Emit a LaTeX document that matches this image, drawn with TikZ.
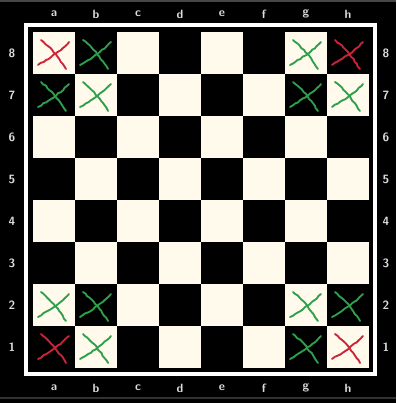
\documentclass[tikz,border=0pt]{standalone}
\usetikzlibrary{decorations.pathmorphing}
\definecolor{boardlight}{RGB}{255,250,236}
\definecolor{labelgray}{RGB}{220,220,220}
\definecolor{edgegray}{RGB}{70,70,70}
\definecolor{xred}{RGB}{205,35,55}
\definecolor{xgreen}{RGB}{45,160,75}
\tikzset{
  lightsq/.style={fill=boardlight},
  framewhite/.style={draw=white,line width=3pt},
  lbl/.style={text=labelgray,font=\sffamily\bfseries\fontsize{9}{9}\selectfont,inner sep=0pt},
  xstroke/.style={line width=1.4pt,line cap=round,line join=round,
    decorate,decoration={random steps,segment length=2.2pt,amplitude=0.4pt}},
}
\newcommand\xmark[3]{%
  \begin{scope}[shift={(54+42*#1,53+42*(8-#2))}]
    \draw[xstroke,#3] (-13,-13) .. controls (-1,-3) and (4,4) .. (12,16);
    \draw[xstroke,#3] (15,-11) .. controls (4,0) and (-3,4) .. (-16,12);
  \end{scope}}
\begin{document}
\begin{tikzpicture}[x=0.75pt,y=-0.75pt]
\pgfmathsetseed{7}
\useasboundingbox (0,0) rectangle (396,403);
\fill[black] (0,0) rectangle (396,403);
\fill[edgegray] (0,0) rectangle (396,2);
\fill[edgegray!70!black] (0,397) rectangle (396,399);
% white frame
\draw[framewhite] (26,25) rectangle (375,374);
% squares
\foreach \i in {0,...,7}{
  \foreach \r in {1,...,8}{
    \pgfmathtruncatemacro\sqpar{mod(\i+\r,2)}
    \ifnum\sqpar=0
      \fill[lightsq] (33+42*\i,32+42*8-42*\r) rectangle ++(42,42);
    \fi
  }
}
% labels
\foreach \f [count=\k from 0] in {a,b,c,d,e,f,g,h}{
  \node[lbl] (top\f) at (54+42*\k,14) {\f};
  \node[lbl] (bot\f) at (54+42*\k,388) {\f};
}
\foreach \r in {1,...,8}{
  \node[lbl] (left\r) at (12,53+42*8-42*\r) {\r};
  \node[lbl] (right\r) at (386,53+42*8-42*\r) {\r};
}
% crosses
\xmark{0}{8}{xred}
\xmark{7}{8}{xred}
\xmark{0}{1}{xred}
\xmark{7}{1}{xred}
\xmark{1}{8}{xgreen}
\xmark{6}{8}{xgreen}
\xmark{0}{7}{xgreen}
\xmark{1}{7}{xgreen}
\xmark{6}{7}{xgreen}
\xmark{7}{7}{xgreen}
\xmark{0}{2}{xgreen}
\xmark{1}{2}{xgreen}
\xmark{6}{2}{xgreen}
\xmark{7}{2}{xgreen}
\xmark{1}{1}{xgreen}
\xmark{6}{1}{xgreen}
\end{tikzpicture}
\end{document}
